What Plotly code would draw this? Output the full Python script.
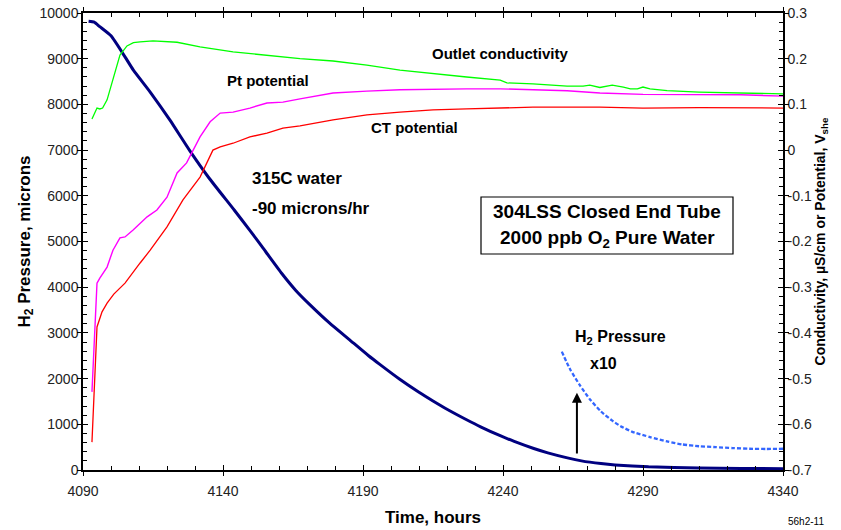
import plotly.graph_objects as go

# ---- data ----
time_h2 = [4092, 4094, 4096, 4100, 4105, 4108, 4114, 4121, 4128, 4135, 4144, 4150, 4154,
           4161, 4166, 4171, 4178, 4185, 4192, 4196, 4203, 4210, 4215, 4220, 4227, 4232, 4239,
           4244, 4251, 4256, 4263, 4268, 4275, 4280, 4292, 4310, 4325, 4340]
h2_pressure = [9820, 9800, 9700, 9500, 9040, 8750, 8270, 7660, 7000, 6390, 5690, 5210, 4880,
               4300, 3930, 3620, 3220, 2860, 2500, 2310, 1990, 1700, 1510, 1330, 1100, 945, 750,
               625, 470, 375, 265, 200, 140, 110, 70, 45, 35, 30]

time_x10 = [4261, 4264, 4267.5, 4271, 4275, 4279, 4282, 4286, 4292.5, 4299, 4304, 4310,
            4316, 4322, 4328, 4334, 4340]
h2_pressure_x10 = [2590, 2200, 1850, 1550, 1280, 1080, 960, 840, 720, 620, 560, 520,
                   500, 480, 465, 460, 465]

time_cond = [4093.2, 4095, 4096, 4097, 4098.6, 4101.4, 4103.2, 4105.7, 4108, 4110.4, 4115,
             4123.6, 4131.8, 4143.6, 4155.7, 4167.5, 4179.3, 4191.4, 4203.2, 4215, 4227,
             4239, 4241.4, 4250.7, 4262.9, 4268.6, 4271, 4274.6, 4279, 4283, 4285.5, 4288,
             4290, 4292.5, 4298.6, 4310, 4322, 4340]
outlet_conductivity = [0.068, 0.092, 0.090, 0.092, 0.110, 0.171, 0.208, 0.228, 0.235, 0.237,
                       0.239, 0.236, 0.226, 0.215, 0.208, 0.200, 0.195, 0.186, 0.175, 0.167,
                       0.160, 0.153, 0.147, 0.145, 0.140, 0.140, 0.142, 0.137, 0.142, 0.138,
                       0.134, 0.134, 0.138, 0.134, 0.130, 0.127, 0.125, 0.123]

time_pt = [4093.2, 4095, 4096, 4098.6, 4100.7, 4103.2, 4105, 4107.9, 4112.9, 4116.4, 4120,
           4123.6, 4127, 4131.8, 4135.4, 4139, 4143.6, 4149.6, 4155.7, 4161.4, 4167.5,
           4179.3, 4191.4, 4203.2, 4227, 4239, 4262.9, 4274.6, 4290, 4310, 4325, 4340]
pt_potential = [-0.529, -0.291, -0.280, -0.256, -0.219, -0.192, -0.190, -0.175, -0.146,
                -0.131, -0.103, -0.050, -0.028, 0.029, 0.062, 0.081, 0.083, 0.092, 0.103,
                0.105, 0.112, 0.125, 0.129, 0.132, 0.134, 0.134, 0.130, 0.125, 0.122,
                0.122, 0.121, 0.118]

time_ct = [4093.2, 4094.3, 4095, 4096.8, 4098.6, 4101, 4105, 4110.4, 4114, 4120, 4125.7,
           4131.8, 4136.4, 4139, 4143.6, 4149.6, 4155.7, 4161.4, 4167.5, 4179.3, 4191.4,
           4203.2, 4215, 4227, 4250.7, 4262.9, 4274.6, 4290, 4310, 4340]
ct_potential = [-0.639, -0.459, -0.387, -0.354, -0.335, -0.315, -0.291, -0.247, -0.219,
                -0.168, -0.109, -0.059, 0.000, 0.007, 0.015, 0.029, 0.037, 0.048, 0.053,
                0.066, 0.077, 0.083, 0.088, 0.090, 0.094, 0.094, 0.094, 0.092, 0.093, 0.092]

x_ticks = [4090, 4140, 4190, 4240, 4290, 4340]
left_ticks = [0, 1000, 2000, 3000, 4000, 5000, 6000, 7000, 8000, 9000, 10000]
right_ticks = [-0.7, -0.6, -0.5, -0.4, -0.3, -0.2, -0.1, 0, 0.1, 0.2, 0.3]
right_tick_text = ["-0.7", "-0.6", "-0.5", "-0.4", "-0.3", "-0.2", "-0.1", "0", "0.1", "0.2", "0.3"]

x_range = [4090, 4340]
left_range = [0, 10000]
right_range = [-0.7, 0.3]

arrow_x = 4266.4
arrow_tail_y = 330
arrow_head_y = 1690

FONT = "Liberation Sans, Arial, Helvetica, sans-serif"

fig = go.Figure()
fig.add_trace(go.Scatter(x=time_cond, y=outlet_conductivity, yaxis="y2", mode="lines",
                         line=dict(color="#00FF00", width=1.3), name="Outlet conductivity"))
fig.add_trace(go.Scatter(x=time_pt, y=pt_potential, yaxis="y2", mode="lines",
                         line=dict(color="#FF00FF", width=1.4), name="Pt potential"))
fig.add_trace(go.Scatter(x=time_ct, y=ct_potential, yaxis="y2", mode="lines",
                         line=dict(color="#FF0000", width=1.3), name="CT potential"))
fig.add_trace(go.Scatter(x=time_x10, y=h2_pressure_x10, mode="lines",
                         line=dict(color="#3366FF", width=2.3, dash="4px,2px", shape="spline",
                                   smoothing=0.5),
                         name="H2 Pressure x10"))
fig.add_trace(go.Scatter(x=time_h2, y=h2_pressure, mode="lines",
                         line=dict(color="#000080", width=3, shape="spline", smoothing=0.5),
                         name="H2 Pressure"))
# empty helper traces so the outer-tick overlay axes are drawn
fig.add_trace(go.Scatter(x=[], y=[], xaxis="x2", yaxis="y3", showlegend=False, hoverinfo="skip"))
fig.add_trace(go.Scatter(x=[], y=[], xaxis="x2", yaxis="y4", showlegend=False, hoverinfo="skip"))

axis_common = dict(showline=True, linecolor="black", linewidth=1.5, showgrid=False,
                   zeroline=False, tickcolor="black", automargin=False,
                   tickfont=dict(family=FONT, size=14, color="#222"))
outer_common = dict(showline=False, showgrid=False, zeroline=False, showticklabels=False,
                    ticks="outside", ticklen=5, tickcolor="black", tickwidth=1, automargin=False)

fig.update_layout(
    width=841, height=530,
    margin=dict(l=83, r=58, t=13, b=60, autoexpand=False),
    paper_bgcolor="white", plot_bgcolor="white",
    showlegend=False,
    font=dict(family=FONT, color="black"),
    xaxis=dict(range=x_range, tickvals=x_ticks, tickformat="d", ticks="inside", ticklen=5,
               mirror="ticks", ticklabelstandoff=7,
               minor=dict(dtick=10, tick0=4090, ticks="inside", ticklen=4, tickcolor="black"),
               title=dict(text="<b>Time, hours</b>", font=dict(family=FONT, size=17), standoff=14),
               **axis_common),
    xaxis2=dict(range=x_range, overlaying="x", anchor="y", tickvals=x_ticks, mirror="ticks",
                **outer_common),
    yaxis=dict(range=left_range, tickvals=left_ticks, tickformat="d", ticks="inside", ticklen=5,
               minor=dict(dtick=200, tick0=0, ticks="inside", ticklen=4, tickcolor="black"),
               title=dict(text="<b>H<sub>2</sub> Pressure, microns</b>", font=dict(family=FONT, size=17),
                          standoff=5),
               **axis_common),
    yaxis2=dict(range=right_range, overlaying="y", side="right", tickvals=right_ticks,
                ticktext=right_tick_text, ticks="inside", ticklen=5,
                minor=dict(dtick=0.02, tick0=0, ticks="inside", ticklen=4, tickcolor="black"),
                title=dict(text="<b>Conductivity, µS/cm or Potential, V<sub>she</sub></b>",
                           font=dict(family=FONT, size=14), standoff=4),
                **axis_common),
    yaxis3=dict(range=left_range, overlaying="y", side="left", anchor="x", tickvals=left_ticks,
                **outer_common),
    yaxis4=dict(range=right_range, overlaying="y", side="right", anchor="x", tickvals=right_ticks,
                **outer_common),
)

def label(text, x, y, size=15, xanchor="center", **kw):
    fig.add_annotation(text=text, xref="paper", yref="paper", x=x, y=y, showarrow=False,
                       xanchor=xanchor, yanchor="middle",
                       font=dict(family=FONT, size=size, color="black"), **kw)

# pixel helpers -> paper coords (plot area 83..783 x, 13..470 y)
def px(xp):
    return (xp - 83) / 700.0

def py(yp):
    return (470 - yp) / 457.0

label("<b>Outlet conductivity</b>", px(500), py(53))
label("<b>Pt potential</b>", px(268), py(81))
label("<b>CT potential</b>", px(414), py(128))
label("<b>315C water</b>", px(250), py(179), size=17, xanchor="left")
label("<b>-90 microns/hr</b>", px(250), py(208), size=17, xanchor="left")
label("<b>H<sub>2</sub> Pressure</b>", px(573), py(338), size=16, xanchor="left")
label("<b>x10</b>", px(588), py(363), size=16, xanchor="left")

fig.add_shape(type="rect", xref="paper", yref="paper", x0=px(481), x1=px(733), y0=py(254), y1=py(197),
              line=dict(color="black", width=1.2), fillcolor="white", layer="above")
label("<b>304LSS Closed End Tube</b>", px(607), py(211), size=19)
label("<b>2000 ppb O<sub>2</sub> Pure Water</b>", px(607), py(239), size=19)

fig.add_annotation(x=arrow_x, y=arrow_head_y, ax=arrow_x, ay=arrow_tail_y, xref="x", yref="y",
                   axref="x", ayref="y", showarrow=True, arrowhead=2, arrowsize=1, arrowwidth=2,
                   arrowcolor="black", text="")

fig.add_annotation(text="56h2-11", xref="paper", yref="paper", x=px(806), y=py(521),
                   showarrow=False, xanchor="center", yanchor="middle",
                   font=dict(family=FONT, size=10, color="black"))

fig.write_html("out.html")
